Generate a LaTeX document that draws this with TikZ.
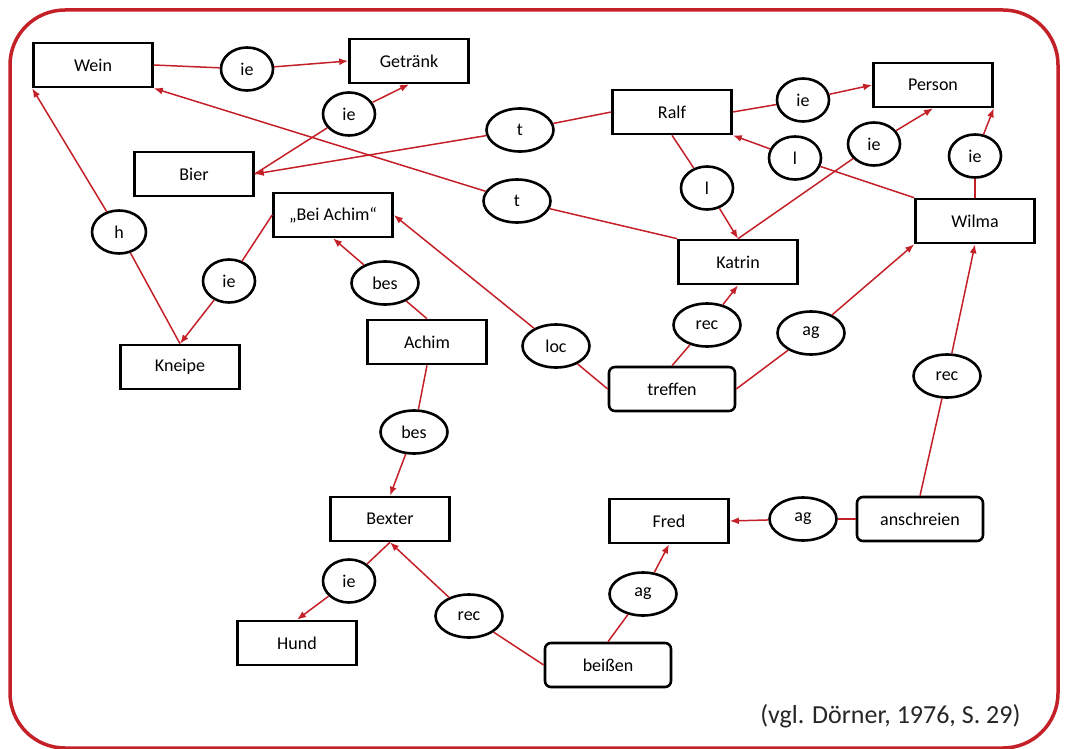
\documentclass[tikz,border=0pt]{standalone}
\usepackage{fontspec}
\setmainfont{Carlito}
\usetikzlibrary{shapes.geometric,arrows.meta}
\definecolor{linkred}{RGB}{196,32,40}

\begin{document}
\begin{tikzpicture}[x=1pt,y=-1pt,font=\fontsize{18}{21}\selectfont,
concept/.style={draw, line width=2.6pt, minimum width=119pt, minimum height=44pt, anchor=center, inner sep=2pt},
event/.style={concept, minimum width=126pt, rounded corners=6pt},
rel/.style={ellipse, draw, line width=2.6pt, minimum width=52pt, minimum height=43pt, inner sep=0pt},
relw/.style={rel, minimum width=67pt},
link/.style={draw=linkred, line width=1.5pt},
arr/.style={link, -{Latex[length=9pt,width=7pt]}}]
\useasboundingbox (0,0) rectangle (1065,749);
\draw[linkred, line width=3.5pt, rounded corners=55pt] (10,10) rectangle (1058,748);

\node[concept] (wein) at (93,65) {Wein};
\node[concept] (getraenk) at (409,61) {Getränk};
\node[concept] (bier) at (194,174) {Bier};
\node[concept] (beiachim) at (333,215) {„Bei Achim“};
\node[concept] (kneipe) at (180,367) {Kneipe};
\node[concept] (achim) at (427,342) {Achim};
\node[concept] (ralf) at (672,112) {Ralf};
\node[concept] (person) at (933,85) {Person};
\node[concept] (wilma) at (975,221) {Wilma};
\node[concept] (katrin) at (738,262) {Katrin};
\node[event] (treffen) at (672,389) {treffen};
\node[concept] (bexter) at (390,519) {Bexter};
\node[concept] (hund) at (297,643) {Hund};
\node[concept] (fred) at (669,521) {Fred};
\node[event] (anschreien) at (920,519) {anschreien};
\node[event] (beissen) at (608,665) {beißen};

\node[rel] (ie1) at (247,69) {ie};
\node[rel] (ie2) at (349,114) {ie};
\node[relw] (t1) at (520,130) {t};
\node[relw] (t2) at (517,201) {t};
\node[rel, minimum width=54pt] (h) at (119,232) {h};
\node[rel] (ie3) at (229,281) {ie};
\node[relw] (bes1) at (385,283) {bes};
\node[relw] (loc) at (556,346) {loc};
\node[rel] (l1) at (707,188) {l};
\node[rel] (l2) at (795,158) {l};
\node[rel] (ie4) at (874,144) {ie};
\node[rel] (ie5) at (803,100) {ie};
\node[rel] (ie6) at (975,156) {ie};
\node[relw] (rec1) at (707,325) {rec};
\node[relw] (ag1) at (811,333) {ag};
\node[relw] (rec2) at (947,376) {rec};
\node[relw] (bes2) at (414,432) {bes};
\node[rel] (ie7) at (349,581) {ie};
\node[relw] (rec3) at (469,616) {rec};
\node[relw] (ag2) at (643,594) {ag};
\node[relw] (ag3) at (803,519) {ag};

\draw[link] (wein.east) -- (ie1);
\draw[arr] (ie1) -- (getraenk.west);
\draw[link] (bier.east) -- (ie2);
\draw[arr] (ie2) -- (getraenk.south);
\draw[link] (ralf.west) -- (t1);
\draw[arr] (t1) -- (bier.east);
\draw[link] (katrin.north west) -- (t2);
\draw[arr] (t2) -- (wein.south east);
\draw[link] (kneipe.north) -- (h);
\draw[arr] (h) -- (wein.south west);
\draw[link] (beiachim.west) -- (ie3);
\draw[arr] (ie3) -- (kneipe.north);
\draw[link] (achim.north) -- (bes1);
\draw[arr] (bes1) -- (beiachim.south);
\draw[link] (treffen.west) -- (loc);
\draw[arr] (loc) -- (beiachim.east);
\draw[link] (achim.south) -- (bes2);
\draw[arr] (bes2) -- (bexter.north);
\draw[link] (ralf.south) -- (l1);
\draw[arr] (l1) -- (katrin.north);
\draw[link] (wilma.north west) -- (l2);
\draw[arr] (l2) -- (ralf.south east);
\draw[link] (katrin.north) -- (ie4);
\draw[arr] (ie4) -- (person.south);
\draw[link] (ralf.east) -- (ie5);
\draw[arr] (ie5) -- (person.west);
\draw[link] (wilma.north) -- (ie6);
\draw[arr] (ie6) -- (person.south east);
\draw[link] (treffen.north) -- (rec1);
\draw[arr] (rec1) -- (katrin.south);
\draw[link] (treffen.east) -- (ag1);
\draw[arr] (ag1) -- (wilma.south west);
\draw[link] (anschreien.north) -- (rec2);
\draw[arr] (rec2) -- (wilma.south);
\draw[link] (anschreien.west) -- (ag3);
\draw[arr] (ag3) -- (fred.east);
\draw[link] (beissen.north) -- (ag2);
\draw[arr] (ag2) -- (fred.south);
\draw[link] (beissen.west) -- (rec3);
\draw[arr] (rec3) -- (bexter.south);
\draw[link] (bexter.south) -- (ie7);
\draw[arr] (ie7) -- (hund.north);

\node[anchor=base east, font=\fontsize{26}{30}\selectfont, text=black!85] (source) at (1024,723) {(vgl. Dörner, 1976, S. 29)};
\end{tikzpicture}
\end{document}
